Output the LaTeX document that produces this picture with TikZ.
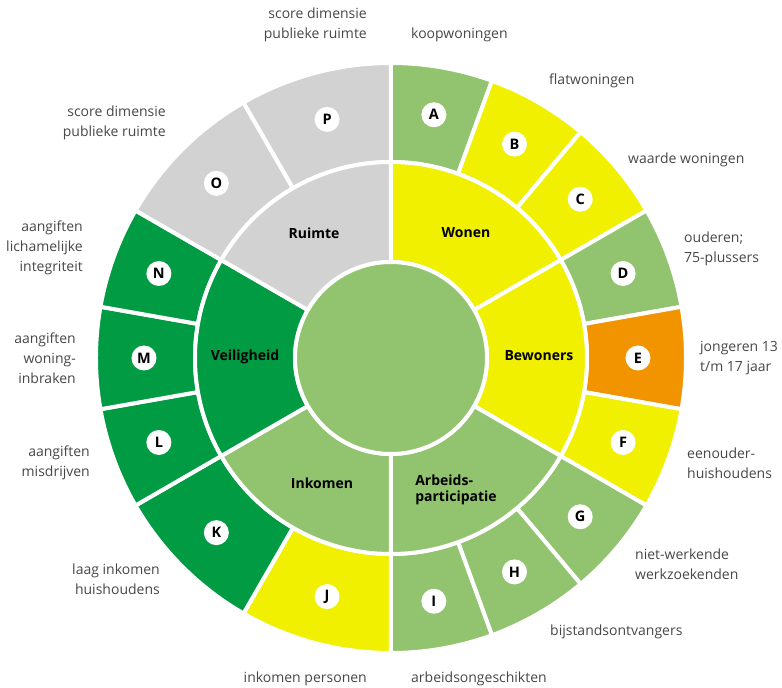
\documentclass[tikz,border=0pt]{standalone}
\usepackage{fontspec}
\setmainfont{Open Sans}
\usepackage{tikz}
\usetikzlibrary{positioning}
\definecolor{lgreen}{RGB}{146,195,110}
\definecolor{dgreen}{RGB}{0,155,66}
\definecolor{yell}{RGB}{240,240,0}
\definecolor{orng}{RGB}{242,148,0}
\definecolor{lgray}{RGB}{210,210,210}

\begin{document}
\begin{tikzpicture}[seg/.style={draw=white,line width=4pt},
  letter node/.style={circle,fill=white,inner sep=0pt,minimum size=25pt,font=\fontsize{14.5}{14.5}\selectfont\bfseries},
  dim node/.style={inner sep=0pt,font=\fontsize{14}{16}\selectfont\bfseries},
  outer text/.style={inner sep=0pt,text=black!72,font=\fontsize{14}{20}\selectfont}]
  \useasboundingbox (-391pt,-330pt) rectangle (391pt,358pt);

  % outer ring
  \fill[lgreen,seg] (90:196pt) arc (90:70:196pt) -- (70:295pt) arc (70:90:295pt) -- cycle;
  \fill[yell,seg] (70:196pt) arc (70:50:196pt) -- (50:295pt) arc (50:70:295pt) -- cycle;
  \fill[yell,seg] (50:196pt) arc (50:30:196pt) -- (30:295pt) arc (30:50:295pt) -- cycle;
  \fill[lgreen,seg] (30:196pt) arc (30:10:196pt) -- (10:295pt) arc (10:30:295pt) -- cycle;
  \fill[orng,seg] (10:196pt) arc (10:-10:196pt) -- (-10:295pt) arc (-10:10:295pt) -- cycle;
  \fill[yell,seg] (-10:196pt) arc (-10:-30:196pt) -- (-30:295pt) arc (-30:-10:295pt) -- cycle;
  \fill[lgreen,seg] (-30:196pt) arc (-30:-50:196pt) -- (-50:295pt) arc (-50:-30:295pt) -- cycle;
  \fill[lgreen,seg] (-50:196pt) arc (-50:-70:196pt) -- (-70:295pt) arc (-70:-50:295pt) -- cycle;
  \fill[lgreen,seg] (-70:196pt) arc (-70:-90:196pt) -- (-90:295pt) arc (-90:-70:295pt) -- cycle;
  \fill[yell,seg] (-90:196pt) arc (-90:-120:196pt) -- (-120:295pt) arc (-120:-90:295pt) -- cycle;
  \fill[dgreen,seg] (-120:196pt) arc (-120:-150:196pt) -- (-150:295pt) arc (-150:-120:295pt) -- cycle;
  \fill[dgreen,seg] (210:196pt) arc (210:190:196pt) -- (190:295pt) arc (190:210:295pt) -- cycle;
  \fill[dgreen,seg] (190:196pt) arc (190:170:196pt) -- (170:295pt) arc (170:190:295pt) -- cycle;
  \fill[dgreen,seg] (170:196pt) arc (170:150:196pt) -- (150:295pt) arc (150:170:295pt) -- cycle;
  \fill[lgray,seg] (150:196pt) arc (150:120:196pt) -- (120:295pt) arc (120:150:295pt) -- cycle;
  \fill[lgray,seg] (120:196pt) arc (120:90:196pt) -- (90:295pt) arc (90:120:295pt) -- cycle;

  % middle ring
  \fill[yell,seg] (90:96pt) arc (90:30:96pt) -- (30:196pt) arc (30:90:196pt) -- cycle;
  \fill[yell,seg] (30:96pt) arc (30:-30:96pt) -- (-30:196pt) arc (-30:30:196pt) -- cycle;
  \fill[lgreen,seg] (-30:96pt) arc (-30:-90:96pt) -- (-90:196pt) arc (-90:-30:196pt) -- cycle;
  \fill[lgreen,seg] (-90:96pt) arc (-90:-150:96pt) -- (-150:196pt) arc (-150:-90:196pt) -- cycle;
  \fill[dgreen,seg] (210:96pt) arc (210:150:96pt) -- (150:196pt) arc (150:210:196pt) -- cycle;
  \fill[lgray,seg] (150:96pt) arc (150:90:96pt) -- (90:196pt) arc (90:150:196pt) -- cycle;
  \fill[lgreen,seg] (0,0) circle (96pt);

  \node[dim node] (wonen) at (75pt,125pt) {Wonen};
  \node[dim node] (bewoners) at (148pt,2pt) {Bewoners};
  \node[dim node,align=left] (arbeid) at (65pt,-132pt) {Arbeids-\\participatie};
  \node[dim node] (inkomen) at (-69pt,-125pt) {Inkomen};
  \node[dim node] (veiligheid) at (-146pt,1pt) {Veiligheid};
  \node[dim node] (ruimte) at (-77pt,125pt) {Ruimte};

  \node[letter node] (A) at (80:247pt) {A};
  \node[letter node] (B) at (60:247pt) {B};
  \node[letter node] (C) at (40:247pt) {C};
  \node[letter node] (D) at (20:247pt) {D};
  \node[letter node] (E) at (0:247pt) {E};
  \node[letter node] (F) at (-20:247pt) {F};
  \node[letter node] (G) at (-40:247pt) {G};
  \node[letter node] (H) at (-60:247pt) {H};
  \node[letter node] (I) at (-80:247pt) {I};
  \node[letter node] (J) at (-105:247pt) {J};
  \node[letter node] (K) at (-135:247pt) {K};
  \node[letter node] (L) at (200:247pt) {L};
  \node[letter node] (M) at (180:247pt) {M};
  \node[letter node] (N) at (160:247pt) {N};
  \node[letter node] (O) at (135:247pt) {O};
  \node[letter node] (P) at (105:247pt) {P};

  \node[outer text,anchor=west] (tA) at (20pt,323pt) {koopwoningen};
  \node[outer text,anchor=west] (tB) at (158pt,277pt) {flatwoningen};
  \node[outer text,anchor=west] (tC) at (237pt,198pt) {waarde woningen};
  \node[outer text,anchor=west,align=left] (tD) at (293pt,109pt) {ouderen;\\75-plussers};
  \node[outer text,anchor=west,align=left] (tE) at (309pt,0pt) {jongeren 13\\t/m 17 jaar};
  \node[outer text,anchor=west,align=left] (tF) at (296pt,-105pt) {eenouder-\\huishoudens};
  \node[outer text,anchor=west,align=left] (tG) at (244pt,-206pt) {niet-werkende\\werkzoekenden};
  \node[outer text,anchor=west] (tH) at (159pt,-274pt) {bijstandsontvangers};
  \node[outer text,anchor=west] (tI) at (20pt,-321pt) {arbeidsongeschikten};
  \node[outer text,anchor=east] (tJ) at (-24pt,-321pt) {inkomen personen};
  \node[outer text,anchor=east,align=right] (tK) at (-231pt,-221pt) {laag inkomen\\huishoudens};
  \node[outer text,anchor=east,align=right] (tL) at (-301pt,-105pt) {aangiften\\misdrijven};
  \node[outer text,anchor=east,align=right] (tM) at (-315pt,0pt) {aangiften\\woning-\\inbraken};
  \node[outer text,anchor=east,align=right] (tN) at (-308pt,110pt) {aangiften\\lichamelijke\\integriteit};
  \node[outer text,anchor=east,align=right] (tO) at (-225pt,235pt) {score dimensie\\publieke ruimte};
  \node[outer text,anchor=east,align=right] (tP) at (-24pt,333pt) {score dimensie\\publieke ruimte};
\end{tikzpicture}
\end{document}
